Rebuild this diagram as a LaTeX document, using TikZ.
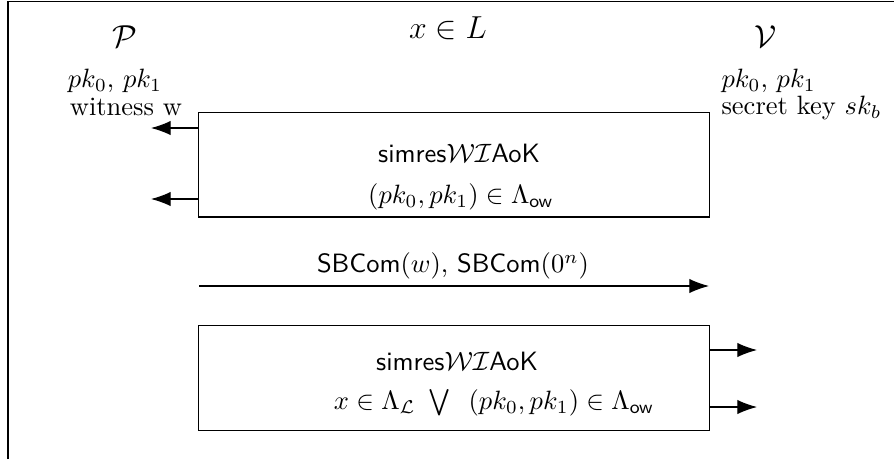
\documentclass[tikz,border=0pt]{standalone}
\usetikzlibrary{arrows.meta}
\begin{document}
\begin{tikzpicture}[x=0.3774pt,y=-0.3774pt,
  arr/.style={-{Latex[length=7.4pt,width=5.4pt]}},
  proto/.style={draw,minimum width=192.5pt,minimum height=39.6pt,inner sep=0pt},
  lbl/.style={inner sep=0pt,anchor=center}]
  \useasboundingbox (0,0) rectangle (894,459);
  % frame (left and top edges)
  \draw[line width=0.45pt] (8,459) -- (8,1.5) -- (894,1.5);

  % parties and their inputs
  \node[lbl,font=\large] (stmt) at (448,28) {$x \in L$};
  \node[lbl,font=\large] (P) at (125,37) {$\mathcal{P}$};
  \node[lbl] (Pk) at (115,81) {$pk_0$, $pk_1$};
  \node[lbl] (Pw) at (126,107) {witness w};
  \node[lbl,font=\large] (V) at (766,37) {$\mathcal{V}$};
  \node[lbl,anchor=west] (Vk) at (721,81) {$pk_0$, $pk_1$};
  \node[lbl,anchor=west] (Vs) at (721,108) {secret key $sk_b$};

  % first sub-protocol
  \node[proto] (wi1) at (454,164.5) {};
  \node[lbl] (wi1a) at (459,153) {\textsf{simres}$\mathcal{WI}$\textsf{AoK}};
  \node[lbl] (wi1b) at (461,197) {$(pk_0,pk_1) \in \Lambda_{\mathsf{ow}}$};
  \coordinate (o1) at (151,128);
  \coordinate (o2) at (151,199);
  \draw[arr] (wi1.west |- o1) -- (o1);
  \draw[arr] (wi1.west |- o2) -- (o2);

  % commitments sent to the verifier
  \coordinate (cs) at (199,286);
  \coordinate (ce) at (709,286);
  \draw[arr] (cs) -- (ce);
  \node[lbl] (com) at (453,266) {$\mathsf{SBCom}(w)$, $\mathsf{SBCom}(0^n)$};

  % second sub-protocol
  \node[proto] (wi2) at (454,378) {};
  \node[lbl] (wi2a) at (457,361) {\textsf{simres}$\mathcal{WI}$\textsf{AoK}};
  \node[lbl] (wi2b) at (494,403) {$x \in \Lambda_{\mathcal{L}} \ \bigvee\ \ (pk_0,pk_1) \in \Lambda_{\mathsf{ow}}$};
  \coordinate (r1) at (757,350);
  \coordinate (r2) at (757,407);
  \draw[arr] (wi2.east |- r1) -- (r1);
  \draw[arr] (wi2.east |- r2) -- (r2);
\end{tikzpicture}
\end{document}
